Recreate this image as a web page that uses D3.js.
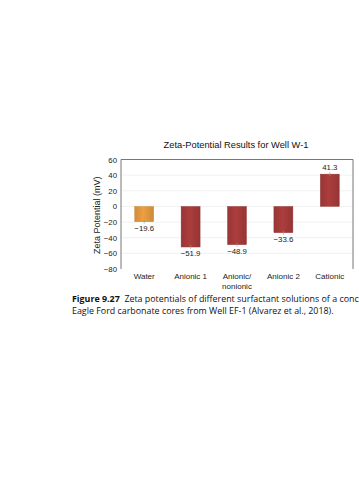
<!DOCTYPE html>
<html><head><meta charset="utf-8">
<script src="https://cdn.jsdelivr.net/npm/d3@7"></script>
<style>html,body{margin:0;padding:0;background:#fff;overflow:hidden;}</style>
</head><body>
<script>
const categories = ["Water", "Anionic 1", "Anionic/\nnonionic", "Anionic 2", "Cationic"];
const values = [-19.6, -51.9, -48.9, -33.6, 41.3];
const barColors = ["#e39a3e", "#a63b3b", "#a63b3b", "#a63b3b", "#a63b3b"];
const yTicks = [60, 40, 20, 0, -20, -40, -60, -80];
const title = "Zeta-Potential Results for Well W-1";
const yLabel = "Zeta Potential (mV)";
const captionBold = "Figure 9.27";
const captionLine1 = "  Zeta potentials of different surfactant solutions of a conc";
const captionLine2 = "Eagle Ford carbonate cores from Well EF-1 (Alvarez et al., 2018).";

const W = 359, H = 480;
const svg = d3.select("body").append("svg").attr("width", W).attr("height", H);
const mLeft = 121, mRight = 353, mTop = 159.5, mBottom = 269;
const x = d3.scaleBand().domain(categories).range([mLeft, mRight]).paddingInner(0).paddingOuter(0);
const y = d3.scaleLinear().domain([-80, 60]).range([mBottom, mTop]);
const font = "'Liberation Sans', Arial, Helvetica, sans-serif";

const defs = svg.append("defs");
barColors.forEach((c, i) => {
  const g = defs.append("linearGradient").attr("id", "g" + i).attr("x1", 0).attr("x2", 1).attr("y1", 0).attr("y2", 0);
  const base = d3.color(c);
  g.append("stop").attr("offset", "0%").attr("stop-color", base.darker(0.25));
  g.append("stop").attr("offset", "45%").attr("stop-color", base.brighter(0.1));
  g.append("stop").attr("offset", "100%").attr("stop-color", base.darker(0.3));
});

// gridlines
svg.append("g").selectAll("line").data(yTicks.filter(t => t !== 60 && t !== -80)).join("line")
  .attr("x1", mLeft).attr("x2", mRight).attr("y1", d => y(d)).attr("y2", d => y(d))
  .attr("stroke", "#ececec").attr("stroke-width", 0.8);

// frame (left, top, right)
svg.append("path")
  .attr("d", `M${mLeft},${mBottom} V${mTop} H${mRight} V${mBottom}`)
  .attr("fill", "none").attr("stroke", "#777").attr("stroke-width", 1);

// y axis
const yAxis = svg.append("g").attr("transform", `translate(${mLeft},0)`)
  .call(d3.axisLeft(y).tickValues(yTicks).tickSize(0).tickPadding(4).tickFormat(d => d < 0 ? "\u2212" + Math.abs(d) : d));
yAxis.select(".domain").remove();
yAxis.selectAll("text").attr("font-family", font).attr("font-size", 7.8).attr("fill", "#222");

// bars
const bw = 19;
svg.append("g").selectAll("rect").data(values).join("rect")
  .attr("x", (d, i) => x(categories[i]) + x.bandwidth() / 2 - bw / 2)
  .attr("width", bw)
  .attr("y", d => y(Math.max(0, d)))
  .attr("height", d => Math.abs(y(d) - y(0)))
  .attr("fill", (d, i) => `url(#g${i})`)
  .attr("stroke", (d, i) => d3.color(barColors[i]).darker(0.4))
  .attr("stroke-width", 0.4);

// small error ticks
svg.append("g").selectAll("line").data(values).join("line")
  .attr("x1", (d, i) => x(categories[i]) + x.bandwidth() / 2)
  .attr("x2", (d, i) => x(categories[i]) + x.bandwidth() / 2)
  .attr("y1", d => y(d) - 2).attr("y2", d => y(d) + 2)
  .attr("stroke", "#999").attr("stroke-width", 0.6);

// value labels
svg.append("g").selectAll("text").data(values).join("text")
  .attr("x", (d, i) => x(categories[i]) + x.bandwidth() / 2)
  .attr("y", d => d < 0 ? y(d) + 9 : y(d) - 4)
  .attr("text-anchor", "middle").attr("font-family", font).attr("font-size", 7.8).attr("fill", "#222")
  .text(d => d < 0 ? "\u2212" + Math.abs(d).toFixed(1) : d.toFixed(1));

// category labels
const cl = svg.append("g").selectAll("text").data(categories).join("text")
  .attr("x", d => x(d) + x.bandwidth() / 2)
  .attr("y", 279)
  .attr("text-anchor", "middle").attr("font-family", font).attr("font-size", 8).attr("fill", "#222");
cl.each(function(d) {
  const lines = d.split("\n");
  d3.select(this).selectAll("tspan").data(lines).join("tspan")
    .attr("x", x(d) + x.bandwidth() / 2).attr("dy", (l, j) => j === 0 ? 0 : 10).text(l => l);
});

// title
svg.append("text").attr("x", 236).attr("y", 148).attr("text-anchor", "middle")
  .attr("font-family", font).attr("font-size", 9.3).attr("fill", "#111").text(title);

// y label
svg.append("text").attr("transform", `translate(100,${(mTop + mBottom) / 2 + 1}) rotate(-90)`)
  .attr("text-anchor", "middle").attr("font-family", font).attr("font-size", 9).attr("fill", "#222").text(yLabel);

// caption
const capFont = "'Open Sans', 'Noto Sans', sans-serif";
const c1 = svg.append("text").attr("x", 72).attr("y", 302).attr("font-family", capFont).attr("font-size", 8.9).attr("fill", "#111").attr("xml:space", "preserve");
c1.append("tspan").attr("font-weight", "bold").text(captionBold);
c1.append("tspan").text(captionLine1);
svg.append("text").attr("x", 72).attr("y", 314).attr("font-family", capFont).attr("font-size", 8.9).attr("fill", "#111").text(captionLine2);
</script>
</body></html>
